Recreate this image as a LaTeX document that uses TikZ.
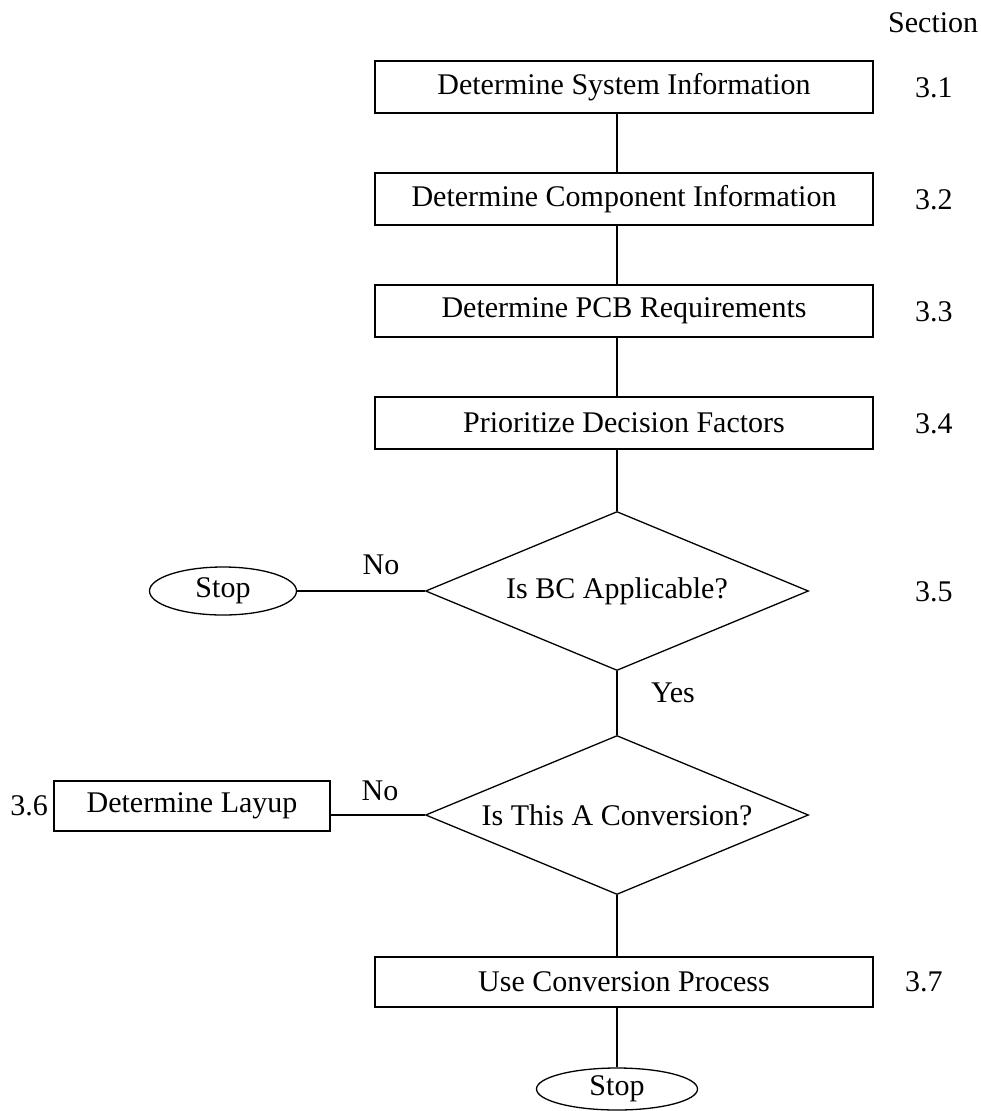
\documentclass[tikz,border=0pt]{standalone}
\usepackage{fontspec}
\setmainfont{Liberation Serif}
\usetikzlibrary{shapes.geometric}
\tikzset{
  stepbox/.style={draw,line width=1.6pt,rectangle,minimum width=498pt,minimum height=52pt,inner sep=0pt},
  decision/.style={draw,line width=1.3pt,diamond,shape aspect=2.41,minimum width=383pt,minimum height=159pt,inner sep=0pt},
  stopnode/.style={draw,line width=1.3pt,ellipse,minimum width=150pt,minimum height=46pt,inner sep=0pt},
  secnum/.style={anchor=base west,inner sep=0pt},
  flow/.style={line width=1.3pt}
}
\begin{document}
\begin{tikzpicture}[x=1pt,y=-1pt,font=\fontsize{30}{36}\selectfont]
  \useasboundingbox (0,0) rectangle (981,1111);
  \coordinate (spine) at (617,0);
  % steps down the middle
  \node[stepbox] (sys) at (624,87) {Determine System Information};
  \node[stepbox] (comp) at (624,199) {Determine Component Information};
  \node[stepbox] (pcb) at (624,311) {Determine PCB Requirements};
  \node[stepbox] (prio) at (624,423) {Prioritize Decision Factors};
  \node[decision] (bc) at (617,591) {Is BC Applicable?};
  \node[decision] (conv) at (617,815) {Is This A Conversion?};
  \node[stepbox,minimum height=50pt] (use) at (624,982) {Use Conversion Process};
  \node[stopnode,minimum width=161pt,minimum height=42pt] (stopb) at (617,1089) {Stop};
  % side branches
  \node[stopnode,minimum width=147pt,minimum height=48pt] (stopa) at (223,591) {Stop};
  \node[draw,line width=1.6pt,minimum width=276pt,minimum height=50pt,inner sep=0pt] (layup) at (192,806) {Determine Layup};
  % section numbers
  \path (888,32) node[secnum] (sec) {Section};
  \path (915,97) node[secnum] (s1) {3.1};
  \path (915,209) node[secnum] (s2) {3.2};
  \path (915,321) node[secnum] (s3) {3.3};
  \path (915,433) node[secnum] (s4) {3.4};
  \path (915,601) node[secnum] (s5) {3.5};
  \path (48,815) node[anchor=base east,inner sep=0pt] (s6) {3.6};
  \path (905,991) node[secnum] (s7) {3.7};
  % connectors
  \draw[flow] (sys.south -| spine) -- (comp.north -| spine);
  \draw[flow] (comp.south -| spine) -- (pcb.north -| spine);
  \draw[flow] (pcb.south -| spine) -- (prio.north -| spine);
  \draw[flow] (prio.south -| spine) -- (bc.north);
  \draw[flow] (bc.south) -- (conv.north);
  \draw[flow] (bc.west) -- (stopa.east);
  \draw[flow] (conv.west) -- (conv.west -| layup.east);
  \draw[flow] (conv.south) -- (use.north -| spine);
  \draw[flow] (use.south -| spine) -- (stopb.north);
  % answers
  \path (381,565) node (noa) {No};
  \path (380,791) node (nob) {No};
  \path (673,693) node (yes) {Yes};
\end{tikzpicture}
\end{document}
